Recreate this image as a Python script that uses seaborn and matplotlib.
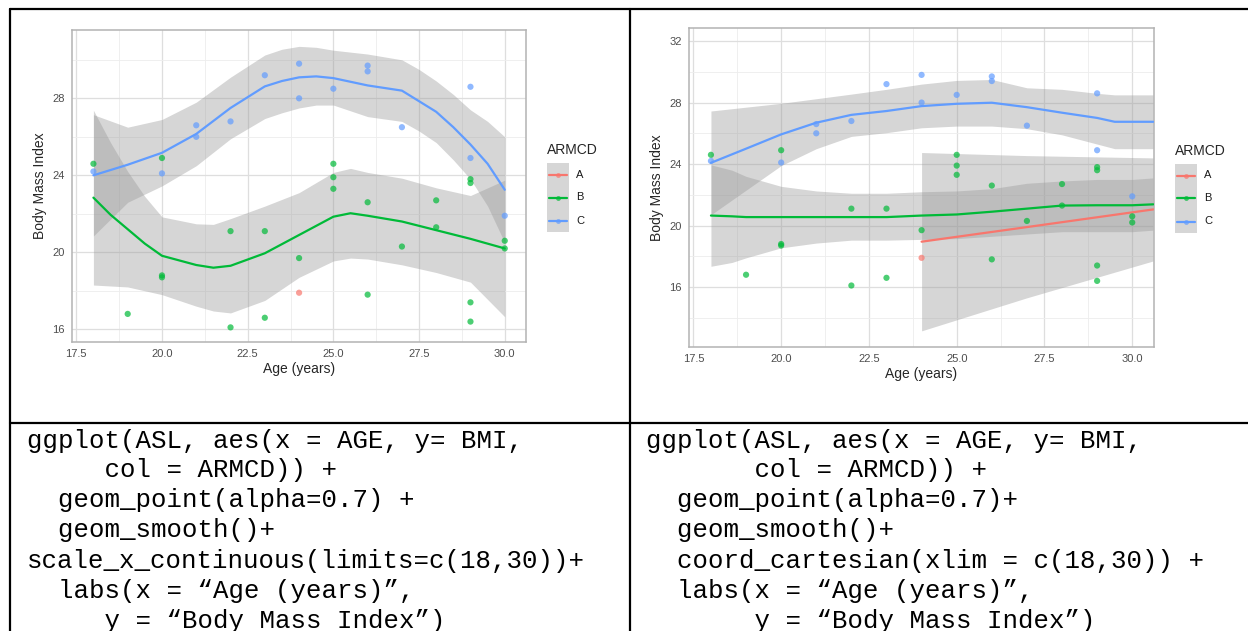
import matplotlib
matplotlib.use("Agg")
import matplotlib.pyplot as plt
import seaborn as sns
import pandas as pd
from matplotlib.lines import Line2D
from matplotlib.patches import Rectangle

# ---------------------------------------------------------------------------
# Data
# ---------------------------------------------------------------------------

ARM_LEVELS = ["A", "B", "C"]
ARM_COLORS = {"A": "#F8766D", "B": "#00BA38", "C": "#619CFF"}

age_a = [24]
bmi_a = [17.9]
age_b = [18, 19, 20, 20, 20, 22, 22, 23, 23, 24, 25, 25, 25, 26, 26, 27,
         28, 28, 29, 29, 29, 29, 30, 30]
bmi_b = [24.6, 16.8, 24.9, 18.8, 18.7, 21.1, 16.1, 21.1, 16.6, 19.7, 24.6,
         23.9, 23.3, 22.6, 17.8, 20.3, 22.7, 21.3, 23.8, 23.6, 17.4, 16.4,
         20.6, 20.2]
age_c = [18, 20, 21, 21, 22, 23, 24, 24, 25, 26, 26, 27, 29, 29, 30]
bmi_c = [24.2, 24.1, 26.6, 26.0, 26.8, 29.2, 29.8, 28.0, 28.5, 29.7, 29.4,
         26.5, 28.6, 24.9, 21.9]

# smoother (scale limits 18-30)
left_b_x = [18, 18.5, 19, 19.5, 20, 21, 21.5, 22, 23, 24, 25, 25.5, 26, 27,
            28, 29, 30]
left_b_fit = [22.84, 21.95, 21.2, 20.45, 19.82, 19.34, 19.2, 19.3, 19.95,
              20.9, 21.85, 22.03, 21.9, 21.6, 21.15, 20.7, 20.2]
left_b_lo = [18.3, 18.25, 18.2, 18.0, 17.8, 17.2, 16.95, 16.85, 17.5, 18.7,
             19.55, 19.7, 19.65, 19.35, 18.95, 18.45, 16.65]
left_b_hi = [27.38, 25.7, 24.2, 22.9, 21.84, 21.48, 21.45, 21.75, 22.4, 23.1,
             24.15, 24.36, 24.15, 23.85, 23.35, 22.95, 23.75]

left_c_x = [18, 19, 20, 21, 22, 23, 23.5, 24, 24.5, 25, 26, 27, 27.5, 28,
            28.5, 29, 29.5, 30]
left_c_fit = [24.0, 24.55, 25.17, 26.15, 27.5, 28.62, 28.9, 29.09, 29.14,
              29.05, 28.67, 28.4, 27.85, 27.3, 26.5, 25.6, 24.6, 23.25]
left_c_lo = [20.85, 22.6, 23.45, 24.5, 25.9, 26.95, 27.25, 27.5, 27.65,
             27.65, 27.05, 26.8, 26.3, 25.7, 24.8, 23.8, 22.4, 20.5]
left_c_hi = [27.15, 26.5, 26.9, 27.8, 29.1, 30.25, 30.55, 30.7, 30.65, 30.5,
             30.3, 30.0, 29.5, 28.9, 28.2, 27.4, 26.8, 26.0]

# smoother (coord_cartesian, full data)
right_a_x = [24, 27, 30.6]
right_a_fit = [18.95, 19.9, 21.05]
right_a_lo = [13.15, 15.3, 17.7]
right_a_hi = [24.75, 24.55, 24.4]

right_b_x = [18, 18.6, 19, 20, 21, 22, 23, 24, 25, 26, 27, 28, 29, 30, 30.6]
right_b_fit = [20.65, 20.6, 20.55, 20.55, 20.55, 20.55, 20.55, 20.65, 20.72,
               20.9, 21.1, 21.3, 21.32, 21.32, 21.38]
right_b_lo = [17.35, 17.6, 17.9, 18.55, 18.86, 19.05, 19.05, 19.1, 19.15,
              19.3, 19.45, 19.6, 19.6, 19.6, 19.7]
right_b_hi = [23.95, 23.6, 23.2, 22.55, 22.25, 22.1, 22.1, 22.2, 22.25, 22.4,
              22.75, 22.9, 23.0, 23.0, 23.1]

right_c_x = [18, 19, 20, 21, 22, 23, 24, 25, 26, 27, 28, 29, 29.5, 30, 30.6]
right_c_fit = [24.08, 25.0, 25.93, 26.69, 27.2, 27.45, 27.77, 27.92, 27.99,
               27.7, 27.34, 27.0, 26.75, 26.75, 26.75]
right_c_lo = [20.7, 22.3, 23.9, 25.0, 25.8, 26.04, 26.36, 26.47, 26.47,
              26.3, 25.9, 25.3, 25.0, 25.0, 25.0]
right_c_hi = [27.45, 27.7, 27.95, 28.25, 28.55, 28.86, 29.2, 29.44, 29.5,
              28.96, 28.86, 28.6, 28.5, 28.5, 28.5]

x_ticks = [17.5, 20.0, 22.5, 25.0, 27.5, 30.0]
left_y_ticks = [16, 20, 24, 28]
right_y_ticks = [16, 20, 24, 28, 32]

code_left = [
    "ggplot(ASL, aes(x = AGE, y= BMI,",
    "     col = ARMCD)) +",
    "  geom_point(alpha=0.7) +",
    "  geom_smooth()+",
    "scale_x_continuous(limits=c(18,30))+",
    "  labs(x = \u201cAge (years)\u201d,",
    "     y = \u201cBody Mass Index\u201d)",
]
code_right = [
    "ggplot(ASL, aes(x = AGE, y= BMI,",
    "       col = ARMCD)) +",
    "  geom_point(alpha=0.7)+",
    "  geom_smooth()+",
    "  coord_cartesian(xlim = c(18,30)) +",
    "  labs(x = \u201cAge (years)\u201d,",
    "       y = \u201cBody Mass Index\u201d)",
]

W, H = 1248, 631

points = pd.DataFrame({
    "AGE": age_a + age_b + age_c,
    "BMI": bmi_a + bmi_b + bmi_c,
    "ARMCD": ["A"] * len(age_a) + ["B"] * len(age_b) + ["C"] * len(age_c),
})


def fx(px):
    return px / W


def fy(py):
    return 1 - py / H


def style_panel(ax, ylim, yticks, yminor):
    ax.set_xlim(17.375, 30.62)
    ax.set_ylim(*ylim)
    ax.set_xticks(x_ticks)
    ax.set_xticks([18.75, 21.25, 23.75, 26.25, 28.75], minor=True)
    ax.set_yticks(yticks)
    ax.set_yticks(yminor, minor=True)
    ax.set_xticklabels([f"{t:.1f}" for t in x_ticks])
    ax.grid(which="major", color="#DEDEDE", lw=0.9, zorder=0)
    ax.grid(which="minor", color="#EDEDED", lw=0.6, zorder=0)
    ax.set_axisbelow(True)
    for s in ax.spines.values():
        s.set_color("#B3B3B3")
        s.set_linewidth(1.1)
    ax.tick_params(which="major", length=3, color="#B3B3B3", labelsize=8,
                   labelcolor="#4D4D4D", pad=2)
    ax.tick_params(which="minor", length=0)
    ax.set_xlabel("Age (years)", fontsize=10, labelpad=2)
    ax.set_ylabel("Body Mass Index", fontsize=10, labelpad=4)


def draw_smooth(ax, x, fit, lo, hi, arm):
    ax.fill_between(x, lo, hi, color="#999999", alpha=0.4, lw=0, zorder=2)
    sns.lineplot(x=x, y=fit, color=ARM_COLORS[arm], lw=1.6, ax=ax, zorder=3)


def draw_legend(fig, x0, ytitle):
    fig.text(fx(x0), fy(ytitle), "ARMCD", fontsize=10, va="center",
             ha="left")
    top = ytitle + 13
    key_h = 23
    fig.add_artist(Rectangle((fx(x0), fy(top + 3 * key_h)), fx(22),
                             (3 * key_h) / H, transform=fig.transFigure,
                             color="#999999", alpha=0.4, lw=0))
    for i, arm in enumerate(ARM_LEVELS):
        yc = top + key_h * (i + 0.5)
        fig.add_artist(Line2D([fx(x0 + 2), fx(x0 + 20)], [fy(yc), fy(yc)],
                              transform=fig.transFigure, lw=1.6,
                              color=ARM_COLORS[arm]))
        fig.add_artist(Line2D([fx(x0 + 11)], [fy(yc)], marker="o", ms=3.5,
                              mew=0, transform=fig.transFigure,
                              color=ARM_COLORS[arm], alpha=0.7))
        fig.text(fx(x0 + 29), fy(yc), arm, fontsize=8, va="center",
                 ha="left", color="#1A1A1A")


sns.set_style("white")
plt.rcParams["font.family"] = ["Liberation Sans", "DejaVu Sans"]

fig = plt.figure(figsize=(W / 100, H / 100), dpi=100)

ax_l = fig.add_axes([fx(72), fy(342), fx(526 - 72), (342 - 30) / H])
ax_r = fig.add_axes([fx(689), fy(347), fx(1154 - 689), (347 - 28) / H])

# left panel: scale limits drop out-of-range data
draw_smooth(ax_l, left_c_x, left_c_fit, left_c_lo, left_c_hi, "C")
draw_smooth(ax_l, left_b_x, left_b_fit, left_b_lo, left_b_hi, "B")
sns.scatterplot(data=points, x="AGE", y="BMI", hue="ARMCD",
                hue_order=ARM_LEVELS, palette=ARM_COLORS, alpha=0.7, s=20,
                linewidth=0, legend=False, ax=ax_l, zorder=4)
style_panel(ax_l, (15.34, 31.55), left_y_ticks, [18, 22, 26, 30])

# right panel: coord_cartesian zoom keeps all data in the smoother
draw_smooth(ax_r, right_c_x, right_c_fit, right_c_lo, right_c_hi, "C")
draw_smooth(ax_r, right_b_x, right_b_fit, right_b_lo, right_b_hi, "B")
draw_smooth(ax_r, right_a_x, right_a_fit, right_a_lo, right_a_hi, "A")
sns.scatterplot(data=points, x="AGE", y="BMI", hue="ARMCD",
                hue_order=ARM_LEVELS, palette=ARM_COLORS, alpha=0.7, s=20,
                linewidth=0, legend=False, ax=ax_r, zorder=4)
style_panel(ax_r, (12.1, 32.85), right_y_ticks, [14, 18, 22, 26, 30])

draw_legend(fig, 547, 150)
draw_legend(fig, 1175, 151)

# table borders
border = dict(transform=fig.transFigure, color="black", lw=1.6)
fig.add_artist(Line2D([fx(10), 1], [fy(9), fy(9)], **border))
fig.add_artist(Line2D([fx(10), fx(10)], [fy(9), 0], **border))
fig.add_artist(Line2D([fx(630), fx(630)], [fy(9), 0], **border))
fig.add_artist(Line2D([fx(10), 1], [fy(423), fy(423)], **border))

# code cells
line_y = [441, 470, 500, 530, 561, 591, 621]
for xs, lines in ((27, code_left), (646, code_right)):
    for yy, txt in zip(line_y, lines):
        fig.text(fx(xs), fy(yy), txt, fontsize=18.5, va="center", ha="left",
                 color="black",
                 family=["Liberation Mono", "DejaVu Sans Mono"])

fig.savefig("out.png", dpi=100)
